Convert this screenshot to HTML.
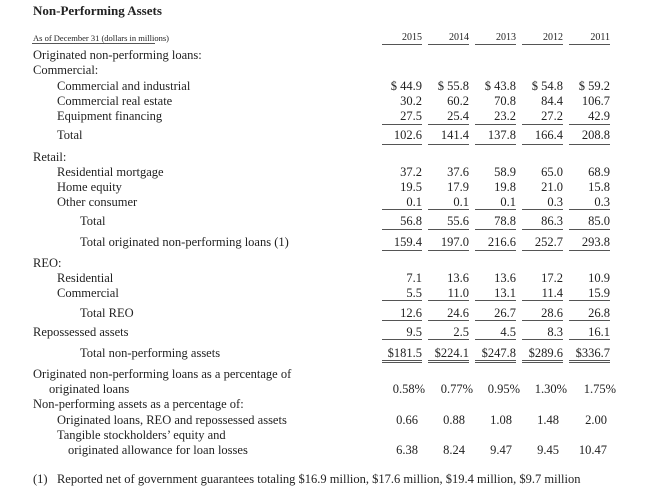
<!DOCTYPE html>
<html><head><meta charset="utf-8"><style>
body{margin:0;background:#fff;width:647px;height:486px;overflow:hidden;position:relative;font-family:"Liberation Serif",serif;color:#222}
.t{position:absolute;font-size:12.5px;white-space:pre;line-height:14px}
.n{position:absolute;font-size:12.5px;white-space:nowrap;line-height:14px;text-align:right;width:60px}
.l{position:absolute;height:1px;background:#555}
</style></head><body>
<div class="t" style="left:33px;top:4px;font-weight:bold;font-size:13px">Non-Performing Assets</div>
<div class="t" style="left:33px;top:31px;font-size:8.5px">As of December 31 (dollars in millions)</div>
<div class="l" style="left:32px;top:43px;width:123px"></div>
<div id="root"></div>
<script>
const years=["2015","2014","2013","2012","2011"];
const labels=[
["Originated non-performing loans:",33,48],["Commercial:",33,63],
["Commercial and industrial",57,79],["Commercial real estate",57,94],["Equipment financing",57,109],["Total",57,128],
["Retail:",33,150],["Residential mortgage",57,165],["Home equity",57,180],["Other consumer",57,195],["Total",80,214],["Total originated non-performing loans (1)",80,235],
["REO:",33,256],["Residential",57,271],["Commercial",57,286],["Total REO",80,306],["Repossessed assets",33,325],["Total non-performing assets",80,346],
["Originated non-performing loans as a percentage of",33,367],["originated loans",49,382],["Non-performing assets as a percentage of:",33,397],
["Originated loans, REO and repossessed assets",57,413],["Tangible stockholders’ equity and",57,428],["originated allowance for loan losses",68,443],
["(1)   Reported net of government guarantees totaling $16.9 million, $17.6 million, $19.4 million, $9.7 million",33,472]];
const values=[
[["$ 44.9","$ 55.8","$ 43.8","$ 54.8","$ 59.2"],79],
[["30.2","60.2","70.8","84.4","106.7"],94],
[["27.5","25.4","23.2","27.2","42.9"],109],
[["102.6","141.4","137.8","166.4","208.8"],128],
[["37.2","37.6","58.9","65.0","68.9"],165],
[["19.5","17.9","19.8","21.0","15.8"],180],
[["0.1","0.1","0.1","0.3","0.3"],195],
[["56.8","55.6","78.8","86.3","85.0"],214],
[["159.4","197.0","216.6","252.7","293.8"],235],
[["7.1","13.6","13.6","17.2","10.9"],271],
[["5.5","11.0","13.1","11.4","15.9"],286],
[["12.6","24.6","26.7","28.6","26.8"],306],
[["9.5","2.5","4.5","8.3","16.1"],325],
[["$181.5","$224.1","$247.8","$289.6","$336.7"],346]];
const pctRow=["0.58%","0.77%","0.95%","1.30%","1.75%"];
const ratio1=["0.66","0.88","1.08","1.48","2.00"];
const ratio2=["6.38","8.24","9.47","9.45","10.47"];
const colRight=[422,469,516,563,610];
const pctRight=[425,473,520,567,616];
const ratRight=[418,465,512,559,607];
const rules=[[44,false],[124,false],[144,false],[209,false],[229,false],[250,false],[300,false],[320,false],[339,false],[360,true]];
const root=document.getElementById('root');
function mk(cls,txt,x,y){const d=document.createElement('div');d.className=cls;d.textContent=txt;d.style.left=x+'px';d.style.top=y+'px';root.appendChild(d);return d;}
years.forEach((y,i)=>{const d=mk('n',y,colRight[i]-60,31);d.style.fontSize='10px';

});
labels.forEach((r,i)=>{const d=mk('t',r[0],r[1],r[2]);

});
values.forEach(r=>{r[0].forEach((v,i)=>{const d=mk('n',v,colRight[i]-60,r[1]);

});});
[[pctRow,pctRight,382],[ratio1,ratRight,413],[ratio2,ratRight,443]].forEach(g=>{g[0].forEach((v,i)=>{const d=mk('n',v,g[1][i]-60,g[2]);

});});
rules.forEach(r=>{colRight.forEach((x,i)=>{const w=i==0?40:41;const L=[[r[0]]];if(r[1])L.push([r[0]+2]);L.forEach(a=>{const d=document.createElement('div');d.className='l';d.style.left=(x-w)+'px';d.style.top=a[0]+'px';d.style.width=w+'px';root.appendChild(d);

});});});
</script>
</body></html>
